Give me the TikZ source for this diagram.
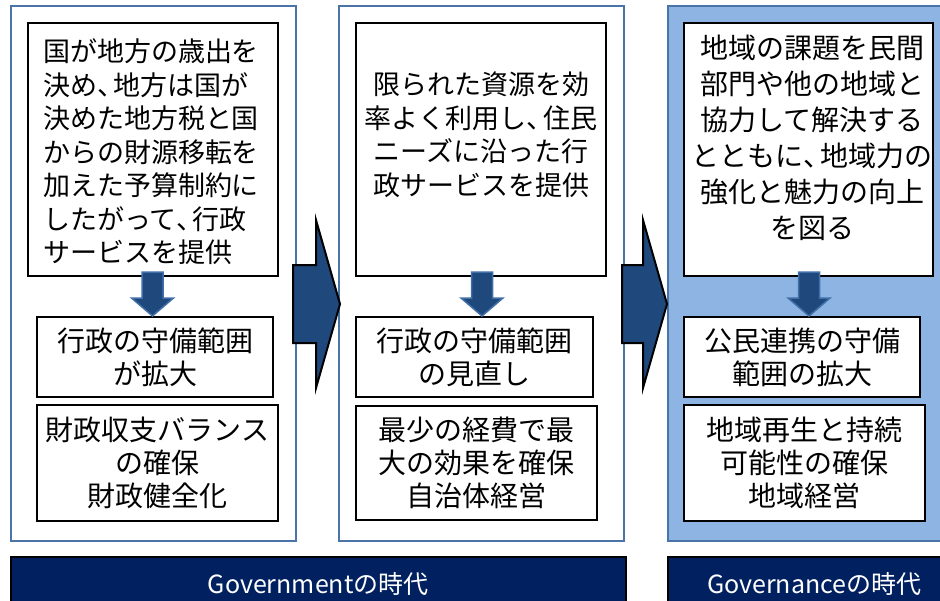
\documentclass[tikz,border=0pt]{standalone}
\usepackage{fontspec}
\setmainfont{Noto Sans CJK JP}

\definecolor{frameblue}{HTML}{4A74A8}
\definecolor{panelblue}{HTML}{8DB4E2}
\definecolor{arrowblue}{HTML}{1F497D}
\definecolor{arrowedge}{HTML}{4170A8}
\definecolor{barnavy}{HTML}{002060}

% narrow ideographic comma
\newcommand\tenC{\makebox[0.6em][l]{、}}

\tikzset{
  era/.style={draw=frameblue, line width=2pt, anchor=north west, inner sep=0pt},
  textbox/.style={draw=black, line width=2pt, fill=white, inner sep=0pt, align=center,
    font=\fontsize{28}{33}\selectfont},
  boxtext/.style={inner sep=0pt, align=center, font=\fontsize{27}{33.5}\selectfont},
  bigarrow/.style={draw=black, line width=2pt, fill=arrowblue},
  smallarrow/.style={draw=arrowedge, line width=1.5pt, fill=arrowblue},
  eraband/.style={draw=black, line width=1.5pt, fill=barnavy, anchor=north west,
    text=white, font=\fontsize{25}{30}\selectfont},
}

\begin{document}
\begin{tikzpicture}[x=1pt, y=-1pt]
        \clip (0,0) rectangle (940,600);

        % Three era panels
        \node[era, minimum width=285, minimum height=535] (oldEra) at (10,5) {};
        \node[era, minimum width=285, minimum height=535] (midEra) at (338,5) {};
        \node[era, fill=panelblue, minimum width=293, minimum height=535] (newEra) at (667,5) {};

        % Government: top box
        \node[textbox, minimum width=250, minimum height=253] (oldTask) at (153,149.5) {};
        \node[boxtext, align=left, text width=216] (oldTaskText) at (151,152)
            {国が地方の歳出を\\決め\tenC 地方は国が\\決めた地方税と国\\からの財源移転を\\加えた予算制約に\\したがって\tenC 行政\\サービスを提供};
        \node[textbox, minimum width=236, minimum height=80] (oldScope) at (155,357)
            {行政の守備範囲\\が拡大};
        \node[textbox, minimum width=241, minimum height=116] (oldGoal) at (157.5,463)
            {財政収支バランス\\の確保\\財政健全化};

        % Efficient government: top box
        \node[textbox, minimum width=250, minimum height=253] (midTask) at (481,149.5) {};
        \node[boxtext] (midTaskText) at (481,135)
            {限られた資源を効\\率よく利用し\tenC 住民\\ニーズに沿った行\\政サービスを提供};
        \node[textbox, minimum width=237, minimum height=80] (midScope) at (474.5,357)
            {行政の守備範囲\\の見直し};
        \node[textbox, minimum width=241, minimum height=114] (midGoal) at (476.5,463)
            {最少の経費で最\\大の効果を確保\\自治体経営};

        % Governance: top box
        \node[textbox, minimum width=249, minimum height=253] (newTask) at (808.5,149.5) {};
        \node[boxtext, font=\fontsize{28}{36}\selectfont] (newTaskText) at (812,137.5)
            {地域の課題を民間\\部門や他の地域と\\協力して解決する\\とともに\tenC 地域力の\\強化と魅力の向上\\を図る};
        \node[textbox, minimum width=236, minimum height=80] (newScope) at (802,357)
            {公民連携の守備\\範囲の拡大};
        \node[textbox, minimum width=241, minimum height=116] (newGoal) at (804.5,463)
            {地域再生と持続\\可能性の確保\\地域経営};

        % Small down arrows (top box -> scope box)
        \foreach \cx in {152.5, 482, 809}
            \draw[smallarrow] ({\cx-10.5},272) -- ({\cx+10.5},272) -- ({\cx+10.5},298)
                -- ({\cx+21},298) -- (\cx,316) -- ({\cx-21},298) -- ({\cx-10.5},298) -- cycle;

        % Big arrows between panels
        \foreach \sx/\hx/\tx in {293/316/340, 622/643/667}
            \draw[bigarrow] (\sx,265) -- (\hx,265) -- (\hx,220) -- (\tx,304)
                -- (\hx,388) -- (\hx,343) -- (\sx,343) -- cycle;

        % Era bands
        \node[eraband, minimum width=615, minimum height=54] (govBand) at (10,556) {Governmentの時代};
        \node[eraband, minimum width=293, minimum height=54] (gvnBand) at (667,556) {Governanceの時代};
\end{tikzpicture}
\end{document}
